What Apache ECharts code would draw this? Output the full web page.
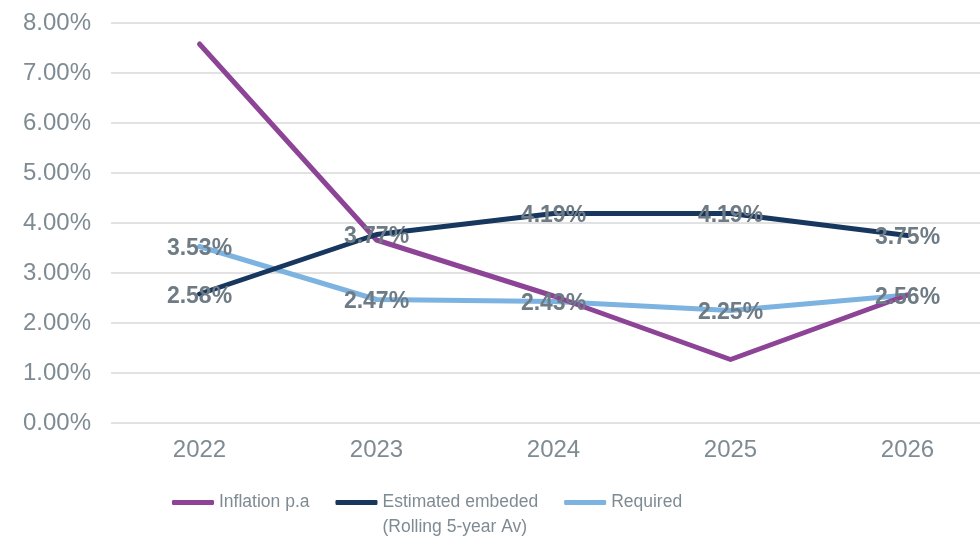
<!DOCTYPE html>
<html>
<head>
<meta charset="utf-8">
<title>Inflation vs embeded</title>
<script src="https://cdn.jsdelivr.net/npm/echarts@6/dist/echarts.min.js"></script>
<style>
    html,body{margin:0;padding:0;background:#fff;}
    #table{width:980px;height:540px;}
</style>
</head>
<body>
<div id="table"></div>
<script>
// data
let years = ["2022","2023","2024","2025","2026"];
let inflation = [7.58, 3.66, 2.54, 1.27, 2.56];
let embeded = [2.58, 3.77, 4.19, 4.19, 3.75];
let required = [3.53, 2.47, 2.43, 2.25, 2.56];
let yTicks = [0,1,2,3,4,5,6,7,8];

let names = ["Inflation p.a", "Estimated embeded\n(Rolling 5-year Av)", "Required"];
let colors = ["#8E4496", "#17375E", "#7DB3E1"];

let chart = {
    labelStyle:()=>{
        return {
            show: true,
            // sits on the point, a touch lower
            position: 'bottom',
            distance: -9,
            color: '#6E7B84',
            fontFamily: 'Liberation Sans',
            fontWeight: 'bold',
            fontSize: 23,
            formatter: (p)=> p.value.toFixed(2) + '%'
        };
    },//labelStyle-----end
    init:()=>{
        var myChart = echarts.init(document.getElementById('table'));
        let lineSeries = (i, data, label)=>{
            return {
                name: names[i],
                type: 'line',
                data: data,
                symbol: 'circle',
                symbolSize: 0,
                showSymbol: true,
                color: colors[i],
                lineStyle: {width: 5, color: colors[i], cap: 'round', join: 'round'},
                label: label ? chart.labelStyle() : {show: false},
                labelLayout: {hideOverlap: false}
            };
        };

        let option = {
            animation: false,
            backgroundColor: '#fff',
            textStyle: {fontFamily: 'Liberation Sans'},
            // plot runs past the right edge, like the original
            grid: {left: 111, width: 885, top: 23, bottom: 117, containLabel: false, outerBoundsMode: 'none'},
            legend: {
                left: 167,
                top: 460,
                itemWidth: 42,
                itemHeight: 5,
                itemGap: 26,
                icon: 'roundRect',
                textStyle: {color: '#7F8B93', fontFamily: 'Liberation Sans', fontSize: 17.5, lineHeight: 25},
                // empty line on top so the icon sits on the first line
                formatter: (name)=> name.indexOf('\n') > 0 ? ' \n' + name : name,
                data: names
            },
            xAxis: {
                type: 'category',
                data: years,
                boundaryGap: true,
                axisLine: {show: false},
                axisTick: {show: false},
                axisLabel: {color: '#7F8B93', fontSize: 24, margin: 15}
            },
            yAxis: {
                type: 'value',
                min: yTicks[0],
                max: yTicks[yTicks.length - 1],
                interval: 1,
                axisLine: {show: false},
                axisTick: {show: false},
                axisLabel: {
                    color: '#7F8B93',
                    fontSize: 24,
                    margin: 20,
                    formatter: (v)=> v.toFixed(2) + '%'
                },
                splitLine: {lineStyle: {color: '#D9D9D9', width: 1.5}}
            },
            series: [
                lineSeries(2, required, true),
                lineSeries(0, inflation, false),
                lineSeries(1, embeded, true)
            ]
        };

        myChart.setOption(option);
    }//init-------end
}

chart.init();
</script>
</body>
</html>
